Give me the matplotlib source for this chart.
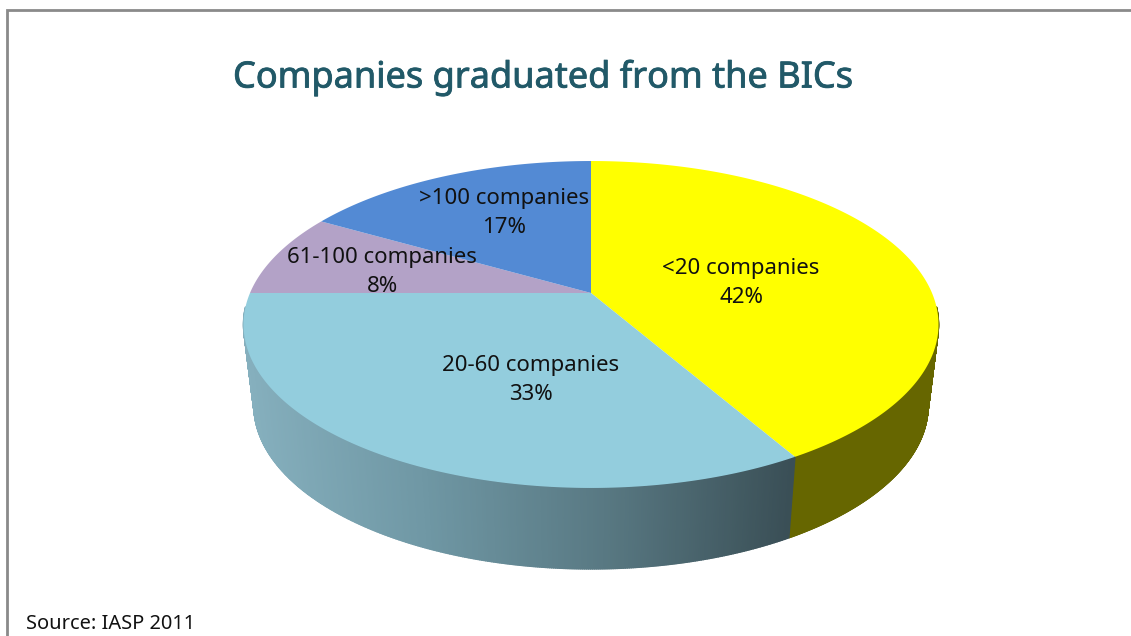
import numpy as np
import matplotlib
matplotlib.use("Agg")
import matplotlib.pyplot as plt
import matplotlib.patheffects as pe
from matplotlib.collections import PolyCollection
from matplotlib.colors import LinearSegmentedColormap, Normalize

# ---- data (clockwise from 12 o'clock)
categories = ["<20 companies", "20-60 companies", "61-100 companies", ">100 companies"]
shares = [41.7, 33.3, 8.3, 16.7]
top_colors = ["#ffff00", "#93cddd", "#b3a2c7", "#538ad4"]
label_xy = [(741, 283), (531, 380), (382, 272), (504, 213)]
title = "Companies graduated from the BICs"
source = "Source: IASP 2011"

W, H = 1131, 636
CX, CY = 591.0, 293.0
F, G, K = 341.0, 157.4, 0.1926
DEPTH, SIDE_SX = 81.0, 0.97


def rim(theta, bottom=False):
    """Perspective projection of the pie rim; theta clockwise from the top."""
    u, v = np.sin(theta), np.cos(theta)
    w = 1 + K * v
    x, y = F * u / w, -G * v / w
    if bottom:
        return CX + SIDE_SX * x, CY + y + DEPTH
    return CX + x, CY + y


fig = plt.figure(figsize=(W / 100, H / 100), dpi=100, facecolor="white")
ax = fig.add_axes([0, 0, 1, 1])
ax.set_xlim(0, W)
ax.set_ylim(H, 0)
ax.axis("off")

# frame
ax.plot([7, 7, W], [H, 10, 10], color="#8a8a8a", lw=2.0, solid_joinstyle="miter")

edges = np.cumsum([0] + shares) / sum(shares) * 2 * np.pi
side_cmap = LinearSegmentedColormap.from_list(
    "side", ["#86b0be", "#6f97a4", "#587882", "#3a4f56"])
side_norm = Normalize(245, 790)

# sides: only the front-facing part of the yellow and light blue slices
front_lo, front_hi = np.radians(95), np.radians(265)
for i in (0, 1):
    a, b = max(edges[i], front_lo), min(edges[i + 1], front_hi)
    t = np.linspace(a, b, 400)
    xt, yt = rim(t)
    xb, yb = rim(t, bottom=True)
    quads, cols = [], []
    for j in range(len(t) - 1):
        quads.append([(xt[j], yt[j]), (xt[j + 1], yt[j + 1]),
                      (xb[j + 1], yb[j + 1]), (xb[j], yb[j])])
        cols.append("#666600" if i == 0 else side_cmap(side_norm((xt[j] + xb[j]) / 2)))
    ax.add_collection(PolyCollection(quads, facecolors=cols, edgecolors=cols, linewidths=1.0))

# top surface
for i, c in enumerate(top_colors):
    t = np.linspace(edges[i], edges[i + 1], 200)
    x, y = rim(t)
    ax.fill(np.r_[CX, x], np.r_[CY, y], color=c, lw=0, zorder=3)

# texts
font = ["Noto Sans", "DejaVu Sans"]
for cat, s, (lx, ly) in zip(categories, shares, label_xy):
    ax.text(lx, ly, f"{cat}\n{round(s)}%", ha="center", va="center", fontsize=16,
            family=font, color="#111111", linespacing=1.45, zorder=5)
ax.text(233, 78, title, ha="left", va="center", fontsize=26,
        family=font, color="#215968",
        path_effects=[pe.withStroke(linewidth=0.6, foreground="#215968")])
ax.text(26, 624, source, ha="left", va="center", fontsize=14.4, family=font, color="#111111")

fig.savefig("out.png", dpi=100, facecolor="white")
